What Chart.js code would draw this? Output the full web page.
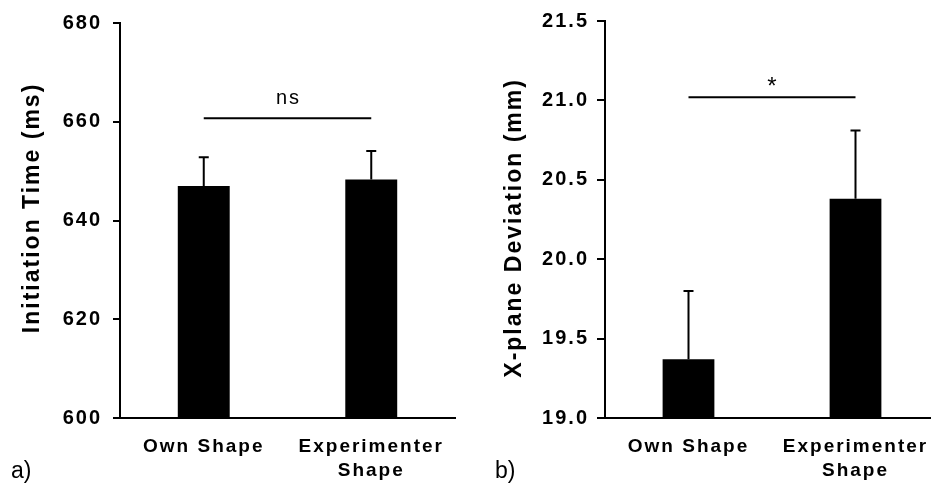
<!DOCTYPE html>
<html>
<head>
<meta charset="utf-8">
<script src="https://cdn.jsdelivr.net/npm/chart.js@4.4.1/dist/chart.umd.min.js"></script>
<style>
    html, body { margin: 0; padding: 0; background: #fff; overflow: hidden; width: 931px; height: 484px; }
    #wrap { position: relative; width: 1000px; height: 484px; }
    canvas { position: absolute; top: 0; }
    #chartA { left: 0; width: 470px; height: 484px; }
    #chartB { left: 470px; width: 470px; height: 484px; }
    .panel-tag { position: absolute; font: 23px "Liberation Sans", Arial, sans-serif; color: #000; line-height: normal; }
</style>
</head>
<body>
<div id="wrap">
    <canvas id="chartA" width="470" height="484"></canvas>
    <canvas id="chartB" width="470" height="484"></canvas>
    <span class="panel-tag" style="left: 11px; top: 457px;">a)</span>
    <span class="panel-tag" style="left: 495px; top: 457px;">b)</span>
</div>
<script>
const categories = [["Own Shape"], ["Experimenter", "Shape"]];

const initiationMeans = [647.0, 648.3];
const initiationErrors = [5.8, 5.8];
const initiationTicks = [600, 620, 640, 660, 680];

const deviationMeans = [19.37, 20.38];
const deviationErrors = [0.43, 0.43];
const deviationTicks = [19.0, 19.5, 20.0, 20.5, 21.0, 21.5];

const significanceLevels = [660.7, 21.02];
const significanceLabels = ["ns", "*"];

const FONT = "'Liberation Sans', Arial, sans-serif";

// Excel-style wide lettering
const spacingPlugin = {
    id: "spacing",
    beforeUpdate(chart) { chart.ctx.letterSpacing = "2px"; },
    beforeDraw(chart) { chart.ctx.letterSpacing = "2px"; }
};

const errorBarPlugin = {
    id: "errorBars",
    afterDatasetsDraw(chart, args, opts) {
        const { ctx } = chart;
        const y = chart.scales.y;
        const meta = chart.getDatasetMeta(0);
        const means = chart.data.datasets[0].data;

        ctx.save();
        ctx.strokeStyle = "#000";
        ctx.lineWidth = 2;
        meta.data.forEach((bar, i) => {
            const top = y.getPixelForValue(means[i] + opts.errors[i]);
            ctx.beginPath();
            ctx.moveTo(bar.x, bar.y);
            ctx.lineTo(bar.x, top);
            ctx.moveTo(bar.x - opts.cap, top);
            ctx.lineTo(bar.x + opts.cap, top);
            ctx.stroke();
        });

        const lineY = y.getPixelForValue(opts.sigLevel);
        const x0 = meta.data[0].x;
        const x1 = meta.data[1].x;
        ctx.beginPath();
        ctx.moveTo(x0, lineY);
        ctx.lineTo(x1, lineY);
        ctx.stroke();

        ctx.fillStyle = "#000";
        ctx.font = `${opts.sigSize}px ${FONT}`;
        ctx.textAlign = "center";
        ctx.textBaseline = "alphabetic";
        ctx.fillText(opts.sigText, (x0 + x1) / 2 + 1, lineY - opts.sigGap);
        ctx.restore();
    }
};

function makeChart(id, means, errors, ticks, decimals, title, sigIndex, padding, yWidth, tickLen, tickPad, sigGap, sigSize) {
    return new Chart(document.getElementById(id), {
        type: "bar",
        data: {
            labels: categories,
            datasets: [{
                data: means,
                backgroundColor: "#000",
                borderWidth: 0,
                barPercentage: 0.31,
                categoryPercentage: 1
            }]
        },
        options: {
            responsive: false,
            animation: false,
            events: [],
            layout: { padding },
            plugins: {
                legend: { display: false },
                tooltip: { enabled: false },
                errorBars: {
                    errors,
                    cap: 5,
                    sigLevel: significanceLevels[sigIndex],
                    sigText: significanceLabels[sigIndex],
                    sigGap,
                    sigSize
                }
            },
            scales: {
                x: {
                    offset: true,
                    grid: { display: false, drawTicks: false, tickLength: 0 },
                    border: { display: true, color: "#000", width: 2 },
                    ticks: {
                        color: "#000",
                        padding: 16,
                        maxRotation: 0,
                        autoSkip: false,
                        font: { family: FONT, size: 19, weight: "bold", lineHeight: 1.3 }
                    },
                    afterFit: (s) => {
                        s.height = 66;
                        s.paddingLeft = 0;
                        s.paddingRight = 0;
                    }
                },
                y: {
                    min: ticks[0],
                    max: ticks[ticks.length - 1],
                    afterBuildTicks: (s) => { s.ticks = ticks.map((v) => ({ value: v })); },
                    afterFit: (s) => { s.width = yWidth; },
                    grid: {
                        drawOnChartArea: false,
                        drawTicks: true,
                        tickLength: tickLen,
                        color: "#000",
                        lineWidth: 2
                    },
                    border: { display: true, color: "#000", width: 2 },
                    ticks: {
                        color: "#000",
                        padding: tickPad,
                        font: { family: FONT, size: 20, weight: "bold" },
                        callback: (v) => v.toFixed(decimals)
                    },
                    title: {
                        display: true,
                        text: title,
                        color: "#000",
                        padding: { top: 0, bottom: 0 },
                        font: { family: FONT, size: 23, weight: "bold" }
                    }
                }
            }
        },
        plugins: [spacingPlugin, errorBarPlugin]
    });
}

// padding spaces nudge the rotated titles off-centre like the original
makeChart("chartA", initiationMeans, initiationErrors, initiationTicks, 0,
    "   Initiation Time (ms)", 0, { left: 19, right: 15, top: 21, bottom: 0 }, 101, 7, 11, 14, 20);
makeChart("chartB", deviationMeans, deviationErrors, deviationTicks, 1,
    "X-plane Deviation (mm)  ", 1, { left: 31, right: 1, top: 21, bottom: 0 }, 104, 8, 8, 3, 24);
</script>
</body>
</html>
